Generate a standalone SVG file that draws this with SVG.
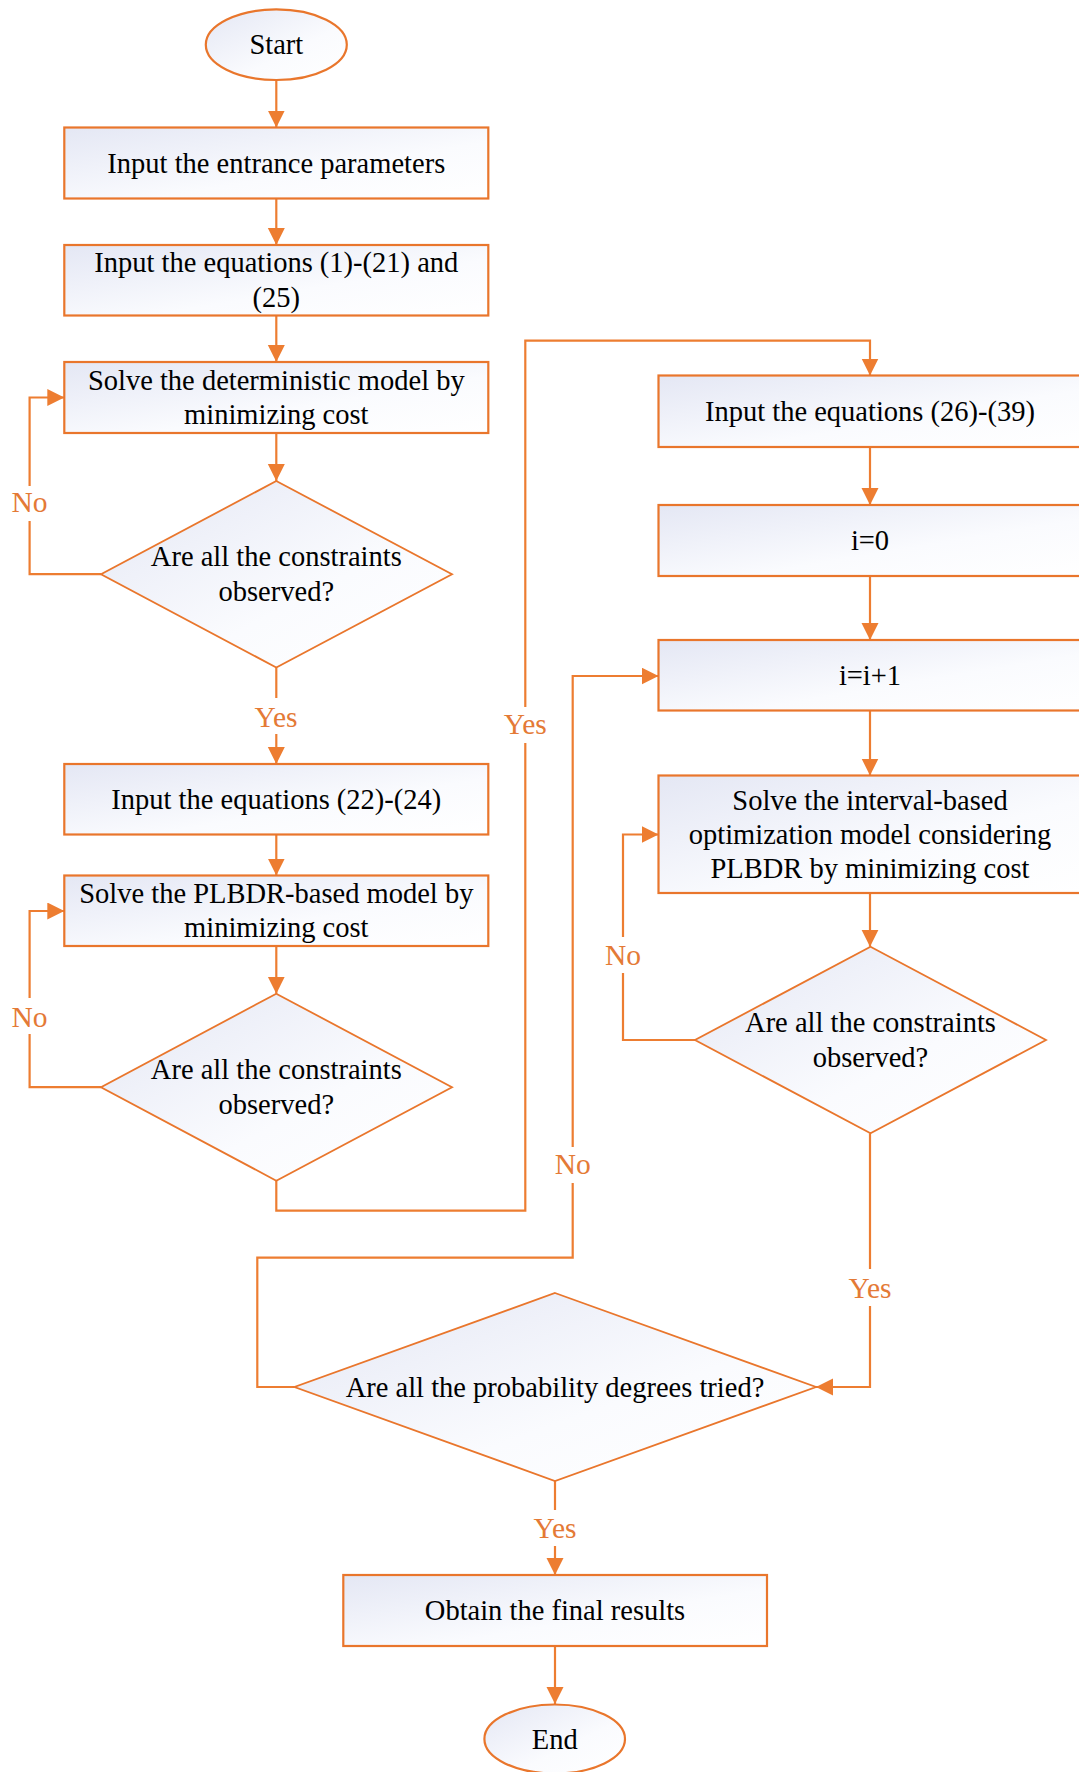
<svg xmlns="http://www.w3.org/2000/svg" width="1079" height="1772" viewBox="0 0 1079 1772">
<defs>
<linearGradient id="g" x1="0" y1="0" x2="1" y2="1">
<stop offset="0" stop-color="#E4E7F4"/>
<stop offset="0.6" stop-color="#FAFBFE"/>
<stop offset="1" stop-color="#FFFFFF"/>
</linearGradient>
<marker id="ar" markerUnits="userSpaceOnUse" markerWidth="18" markerHeight="18" viewBox="0 0 18 18" refX="17" refY="8.5" orient="auto">
<path d="M0,0 L17,8.5 L0,17 z" fill="#ED7D31"/>
</marker>
<style>
.box{fill:url(#g);stroke:#E9762C;stroke-width:2.2}
.dia{fill:url(#g);stroke:#E9762C;stroke-width:1.8}
.t{font-family:"Liberation Serif","Times New Roman",serif;font-size:28.5px;fill:#000;text-anchor:middle}
.c{fill:none;stroke:#ED7D31;stroke-width:2.2}
.ca{fill:none;stroke:#ED7D31;stroke-width:2.2;marker-end:url(#ar)}
.lb{font-family:"Liberation Serif","Times New Roman",serif;font-size:29.5px;fill:#E47A36;text-anchor:middle}
.bg{fill:#fff}
</style>
</defs>
<rect width="1079" height="1772" fill="#fff"/>

<g id="connectors">
<path class="ca" d="M276.3,80 V127.5"/>
<path class="ca" d="M276.3,198.5 V245"/>
<path class="ca" d="M276.3,315.5 V362"/>
<path class="ca" d="M276.3,433 V481"/>
<path class="ca" d="M101,574.2 H29.6 V397.5 H64.3"/>
<path class="ca" d="M276.3,667.5 V764"/>
<path class="ca" d="M276.3,834.5 V875.5"/>
<path class="ca" d="M276.3,946 V993.7"/>
<path class="ca" d="M101,1087.2 H29.6 V911 H64.3"/>
<path class="ca" d="M276.3,1180.7 V1210.7 H525.3 V340.7 H870 V375.5"/>
<path class="ca" d="M870,447 V505"/>
<path class="ca" d="M870,576 V640"/>
<path class="ca" d="M870,710.5 V775.5"/>
<path class="ca" d="M870,893 V946.7"/>
<path class="ca" d="M695,1040 H623 V834.5 H658.5"/>
<path class="ca" d="M870,1133.3 V1387 H816"/>
<path class="ca" d="M294.5,1387 H257.3 V1257.7 H572.7 V676 H658.5"/>
<path class="ca" d="M555,1481 V1575"/>
<path class="ca" d="M555,1646 V1704"/>
</g>

<g id="labels">
<rect class="bg" x="10" y="486" width="40" height="35"/>
<text class="lb" x="29.6" y="511.5">No</text>
<rect class="bg" x="250" y="698" width="52" height="36"/>
<text class="lb" x="276" y="726.5">Yes</text>
<rect class="bg" x="499" y="707" width="52" height="36"/>
<text class="lb" x="525.3" y="733.5">Yes</text>
<rect class="bg" x="10" y="998" width="40" height="36"/>
<text class="lb" x="29.6" y="1027">No</text>
<rect class="bg" x="603" y="937" width="40" height="36"/>
<text class="lb" x="623" y="964.5">No</text>
<rect class="bg" x="553" y="1147" width="40" height="36"/>
<text class="lb" x="572.7" y="1173.5">No</text>
<rect class="bg" x="844" y="1269" width="52" height="37"/>
<text class="lb" x="870" y="1298">Yes</text>
<rect class="bg" x="529" y="1510" width="52" height="36"/>
<text class="lb" x="555" y="1538">Yes</text>
</g>

<g id="start">
<ellipse class="box" cx="276.3" cy="44.7" rx="70.5" ry="35.3"/>
<text class="t" x="276.3" y="54">Start</text>
</g>
<g id="input-params">
<rect class="box" x="64.3" y="127.5" width="424" height="71"/>
<text class="t" x="276.3" y="172.5">Input the entrance parameters</text>
</g>
<g id="input-eq-1-21">
<rect class="box" x="64.3" y="245" width="424" height="70.5"/>
<text class="t" x="276.3" y="272">Input the equations (1)-(21) and</text>
<text class="t" x="276.3" y="306.5">(25)</text>
</g>
<g id="solve-deterministic">
<rect class="box" x="64.3" y="362" width="424" height="71"/>
<text class="t" x="276.3" y="389.5">Solve the deterministic model by</text>
<text class="t" x="276.3" y="424">minimizing cost</text>
</g>
<g id="check1">
<polygon class="dia" points="276.3,481 452,574.2 276.3,667.5 101,574.2"/>
<text class="t" x="276.3" y="566">Are all the constraints</text>
<text class="t" x="276.3" y="600.5">observed?</text>
</g>
<g id="input-eq-22-24">
<rect class="box" x="64.3" y="764" width="424" height="70.5"/>
<text class="t" x="276.3" y="808.7">Input the equations (22)-(24)</text>
</g>
<g id="solve-plbdr">
<rect class="box" x="64.3" y="875.5" width="424" height="70.5"/>
<text class="t" x="276.3" y="902.5">Solve the PLBDR-based model by</text>
<text class="t" x="276.3" y="937">minimizing cost</text>
</g>
<g id="check2">
<polygon class="dia" points="276.3,993.7 452,1087.2 276.3,1180.7 101,1087.2"/>
<text class="t" x="276.3" y="1079">Are all the constraints</text>
<text class="t" x="276.3" y="1113.5">observed?</text>
</g>
<g id="input-eq-26-39">
<rect class="box" x="658.5" y="375.5" width="424" height="71.5"/>
<text class="t" x="870" y="420.5">Input the equations (26)-(39)</text>
</g>
<g id="i0">
<rect class="box" x="658.5" y="505" width="424" height="71"/>
<text class="t" x="870" y="550">i=0</text>
</g>
<g id="i-inc">
<rect class="box" x="658.5" y="640" width="424" height="70.5"/>
<text class="t" x="870" y="684.7">i=i+1</text>
</g>
<g id="solve-interval">
<rect class="box" x="658.5" y="775.5" width="424" height="117.5"/>
<text class="t" x="870" y="809.5">Solve the interval-based</text>
<text class="t" x="870" y="843.5">optimization model considering</text>
<text class="t" x="870" y="877.5">PLBDR by minimizing cost</text>
</g>
<g id="check3">
<polygon class="dia" points="870.5,946.7 1046,1040 870.5,1133.3 695,1040"/>
<text class="t" x="870.5" y="1032">Are all the constraints</text>
<text class="t" x="870.5" y="1066.5">observed?</text>
</g>
<g id="check-prob">
<polygon class="dia" points="555,1293 816,1387 555,1481 294.5,1387"/>
<text class="t" x="555" y="1396.5">Are all the probability degrees tried?</text>
</g>
<g id="final">
<rect class="box" x="343.3" y="1575" width="423.7" height="71"/>
<text class="t" x="555" y="1620">Obtain the final results</text>
</g>
<g id="end">
<ellipse class="box" cx="554.7" cy="1739" rx="70.3" ry="34.5"/>
<text class="t" x="554.7" y="1748.5">End</text>
</g>
</svg>
